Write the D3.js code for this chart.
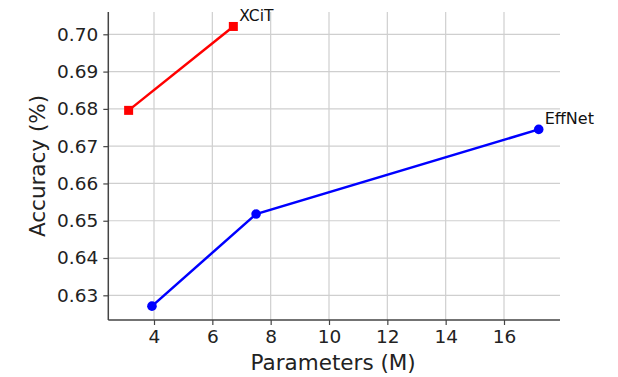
<!DOCTYPE html>
<html>
<head>
<meta charset="utf-8">
<script src="https://cdn.jsdelivr.net/npm/d3@7"></script>
<style>
  html, body { margin: 0; padding: 0; background: #fff; }
  svg { display: block; font-family: "DejaVu Sans", sans-serif; }
</style>
</head>
<body>
<svg id="chart" width="618" height="377"></svg>
<script>
// Model families: parameters (millions) vs. accuracy
const xcitParams = [3.13, 6.72];
const xcitAcc = [0.6796, 0.7021];
const effnetParams = [3.93, 7.50, 17.19];
const effnetAcc = [0.6271, 0.6518, 0.6745];
const xTicks = [4, 6, 8, 10, 12, 14, 16];
const yTicks = [0.63, 0.64, 0.65, 0.66, 0.67, 0.68, 0.69, 0.70];

const svg = d3.select("#chart");
const plotL = 108.3, plotR = 560, plotT = 12, plotB = 320;

const x = d3.scaleLinear().domain([2.433, 17.92]).range([plotL, plotR]);
const y = d3.scaleLinear().domain([0.62338, 0.70598]).range([plotB, plotT]);

// grid
const grid = svg.append("g");
grid.selectAll("line.vx").data(xTicks).join("line")
  .attr("x1", d => x(d)).attr("x2", d => x(d))
  .attr("y1", plotT).attr("y2", plotB)
  .attr("stroke", "#cfcfcf").attr("stroke-width", 1.2);
grid.selectAll("line.hy").data(yTicks).join("line")
  .attr("y1", d => y(d)).attr("y2", d => y(d))
  .attr("x1", plotL).attr("x2", plotR)
  .attr("stroke", "#cfcfcf").attr("stroke-width", 1.2);

// axes
const xAxis = d3.axisBottom(x).tickValues(xTicks).tickFormat(d3.format("d"))
  .tickSize(5).tickPadding(5);
const yAxis = d3.axisLeft(y).tickValues(yTicks).tickFormat(d3.format(".2f"))
  .tickSize(5).tickPadding(5);

const gx = svg.append("g").attr("transform", `translate(0,${plotB})`).call(xAxis);
const gy = svg.append("g").attr("transform", `translate(${plotL},0)`).call(yAxis);
[gx, gy].forEach(g => {
  g.select(".domain").attr("stroke", "#444").attr("stroke-width", 1.5);
  g.selectAll(".tick line").attr("stroke", "#444").attr("stroke-width", 1.2);
  g.selectAll(".tick text").attr("fill", "#222")
    .style("font-family", "DejaVu Sans").style("font-size", "18.5px");
});
gx.select(".domain").attr("d", `M${plotL},0H${plotR}`);
gy.select(".domain").attr("d", `M0,${plotT}V${plotB}`);

// axis titles
svg.append("text").attr("x", (plotL + plotR) / 2 - 1).attr("y", 370)
  .attr("text-anchor", "middle").attr("fill", "#222")
  .style("font-size", "21.5px").text("Parameters (M)");
svg.append("text")
  .attr("transform", `translate(45,${(plotT + plotB) / 2}) rotate(-90)`)
  .attr("text-anchor", "middle").attr("fill", "#222")
  .style("font-size", "21.5px").text("Accuracy (%)");

const line = d3.line().x(d => x(d[0])).y(d => y(d[1]));

// XCiT series
const xcit = xcitParams.map((p, i) => [p, xcitAcc[i]]);
svg.append("path").datum(xcit).attr("d", line)
  .attr("fill", "none").attr("stroke", "#ff0000").attr("stroke-width", 2.5);
svg.selectAll("rect.xcit").data(xcit).join("rect")
  .attr("x", d => x(d[0]) - 4.5).attr("y", d => y(d[1]) - 4.5)
  .attr("width", 9).attr("height", 9).attr("fill", "#ff0000");

// EffNet series
const eff = effnetParams.map((p, i) => [p, effnetAcc[i]]);
svg.append("path").datum(eff).attr("d", line)
  .attr("fill", "none").attr("stroke", "#0000ff").attr("stroke-width", 2.5);
svg.selectAll("circle.eff").data(eff).join("circle")
  .attr("cx", d => x(d[0])).attr("cy", d => y(d[1])).attr("r", 4.8)
  .attr("fill", "#0000ff");

// series labels at last points
const lastX = xcit[xcit.length - 1], lastE = eff[eff.length - 1];
svg.append("text").attr("x", x(lastX[0]) + 6).attr("y", y(lastX[1]) - 5)
  .attr("fill", "#111").style("font-size", "15.5px").text("XCiT");
svg.append("text").attr("x", x(lastE[0]) + 6).attr("y", y(lastE[1]) - 5)
  .attr("fill", "#111").style("font-size", "16px").text("EffNet");
</script>
</body>
</html>
